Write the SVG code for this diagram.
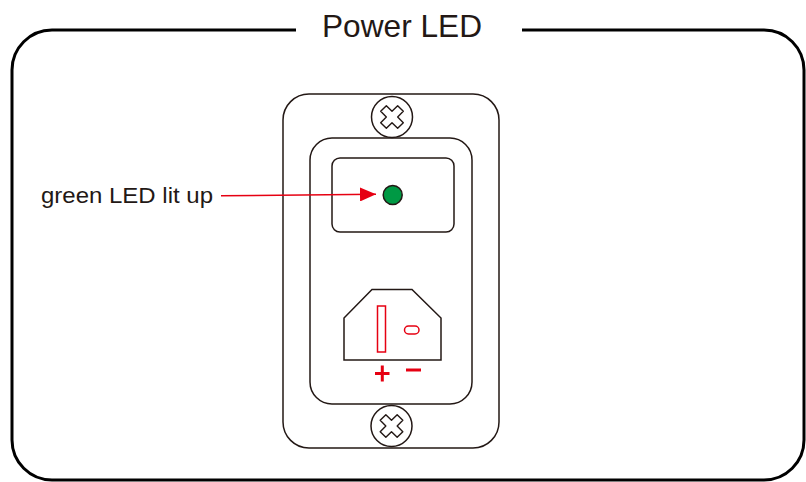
<svg xmlns="http://www.w3.org/2000/svg" width="806" height="482" viewBox="0 0 806 482">
<defs>
<style>
.ln{fill:none;stroke:#231815;stroke-width:1.5}
.rd{fill:none;stroke:#e60012;stroke-width:1.5}
.t{font-family:"Liberation Sans",Arial,sans-serif;fill:#231815}
</style>
<marker id="ah" markerWidth="16" markerHeight="14" refX="16" refY="7" orient="auto" markerUnits="userSpaceOnUse">
<path d="M0,0 L16,7 L0,14 Z" fill="#e60012"/>
</marker>
<path id="xcross" d="M-4,-12 L4,-12 L4,-4 L12,-4 L12,4 L4,4 L4,12 L-4,12 L-4,4 L-12,4 L-12,-4 L-4,-4 Z" transform="rotate(45)" fill="#fff" stroke="#231815" stroke-width="1.4" stroke-linejoin="round"/>
</defs>
<rect width="806" height="482" fill="#fff"/>
<g id="frame">
<path d="M296,30 H52 A40,40 0 0 0 12,70 V440 A40,40 0 0 0 52,480 H764 A40,40 0 0 0 804,440 V70 A40,40 0 0 0 764,30 H522" fill="none" stroke="#000" stroke-width="3"/>
<text class="t" x="402" y="37" font-size="32" text-anchor="middle" textLength="160" lengthAdjust="spacingAndGlyphs" fill="#000">Power LED</text>
</g>
<g id="panel">
<rect class="ln" x="283" y="94" width="216" height="354" rx="26"/>
<rect class="ln" x="310" y="138" width="162" height="266" rx="22"/>
</g>
<g id="screw-top">
<circle class="ln" cx="392" cy="117" r="20.5" fill="#fff"/>
<use href="#xcross" transform="translate(392,117)"/>
</g>
<g id="screw-bottom">
<circle class="ln" cx="391.5" cy="426" r="20.5" fill="#fff"/>
<use href="#xcross" transform="translate(391.5,426)"/>
</g>
<g id="led-window">
<rect class="ln" x="332" y="158" width="122" height="74" rx="8"/>
<circle id="led" cx="392.7" cy="195" r="9.5" fill="#009944" stroke="#231815" stroke-width="1.5"/>
</g>
<g id="socket">
<path class="ln" d="M372,289.5 H412 L441,318 V360 H344 V318 Z" stroke-width="2"/>
<rect class="rd" x="377.5" y="306" width="8" height="46"/>
<rect class="rd" x="404.5" y="326" width="14.5" height="8" rx="4"/>
<path d="M375,373.5 H389.5 M382.3,365.5 V381.5" stroke="#e60012" stroke-width="3"/>
<path d="M406,370 H421" stroke="#e60012" stroke-width="3"/>
</g>
<g id="label">
<text class="t" x="41" y="203" font-size="22" textLength="172" lengthAdjust="spacingAndGlyphs">green LED lit up</text>
</g>
<g id="connectors">
<line x1="221" y1="195.8" x2="376" y2="194.3" stroke="#e60012" stroke-width="1.5" marker-end="url(#ah)"/>
</g>
</svg>
